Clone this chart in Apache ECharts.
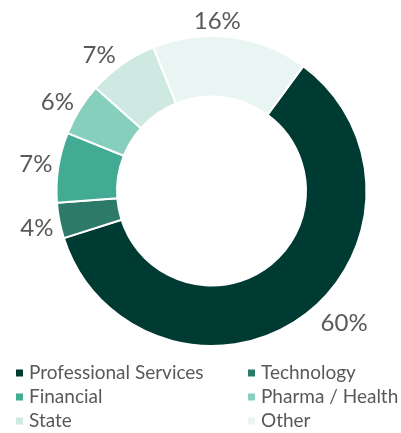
<!DOCTYPE html>
<html>
<head>
<meta charset="utf-8">
<script src="https://cdn.jsdelivr.net/npm/echarts@6/dist/echarts.min.js"></script>
<style>
html,body{margin:0;padding:0;background:#fff;}
#chart{width:401px;height:433px;}
</style>
</head>
<body>
<div id="chart"></div>
<script>
const categories = ['Professional Services', 'Technology', 'Financial', 'Pharma / Health', 'State', 'Other'];
const values = [60.0, 3.7, 7.3, 5.5, 7.3, 16.2];
const colors = ['#003b33', '#2e7a69', '#43ab93', '#86cfbc', '#cde9e1', '#e9f5f2'];

const chart = echarts.init(document.getElementById('chart'), null, {renderer: 'canvas'});
const FONT = 'Lato';
// small label nudges (style only) to mimic the original label placement
const labelNudge = [[9, 0], [7, 6], [7, -2], [6, -3], [3, -2], [-43, -8]];
chart.setOption({
  animation: false,
  color: colors,
  legend: {
    data: categories,
    left: 14,
    top: 363,
    width: 480,
    padding: 0,
    orient: 'horizontal',
    icon: 'rect',
    itemWidth: 9,
    itemHeight: 9,
    itemGap: 4,
    textStyle: {
      fontFamily: FONT,
      fontSize: 19,
      color: '#595959',
      width: 213,
      lineHeight: 20,
      overflow: 'none'
    }
  },
  series: [{
    type: 'pie',
    center: [211.5, 191],
    radius: [94.5, 155],
    startAngle: 53.7,
    clockwise: true,
    avoidLabelOverlap: false,
    itemStyle: {borderColor: '#fff', borderWidth: 2},
    label: {
      show: true,
      position: 'outside',
      fontFamily: FONT,
      fontSize: 24,
      color: '#595959',
      formatter: p => Math.round(p.value) + '%'
    },
    labelLine: {show: false, length: 8, length2: 0},
    labelLayout: p => ({dx: labelNudge[p.dataIndex][0], dy: labelNudge[p.dataIndex][1]}),
    emphasis: {disabled: true},
    data: categories.map((c, i) => ({name: c, value: values[i]}))
  }]
});
</script>
</body>
</html>
